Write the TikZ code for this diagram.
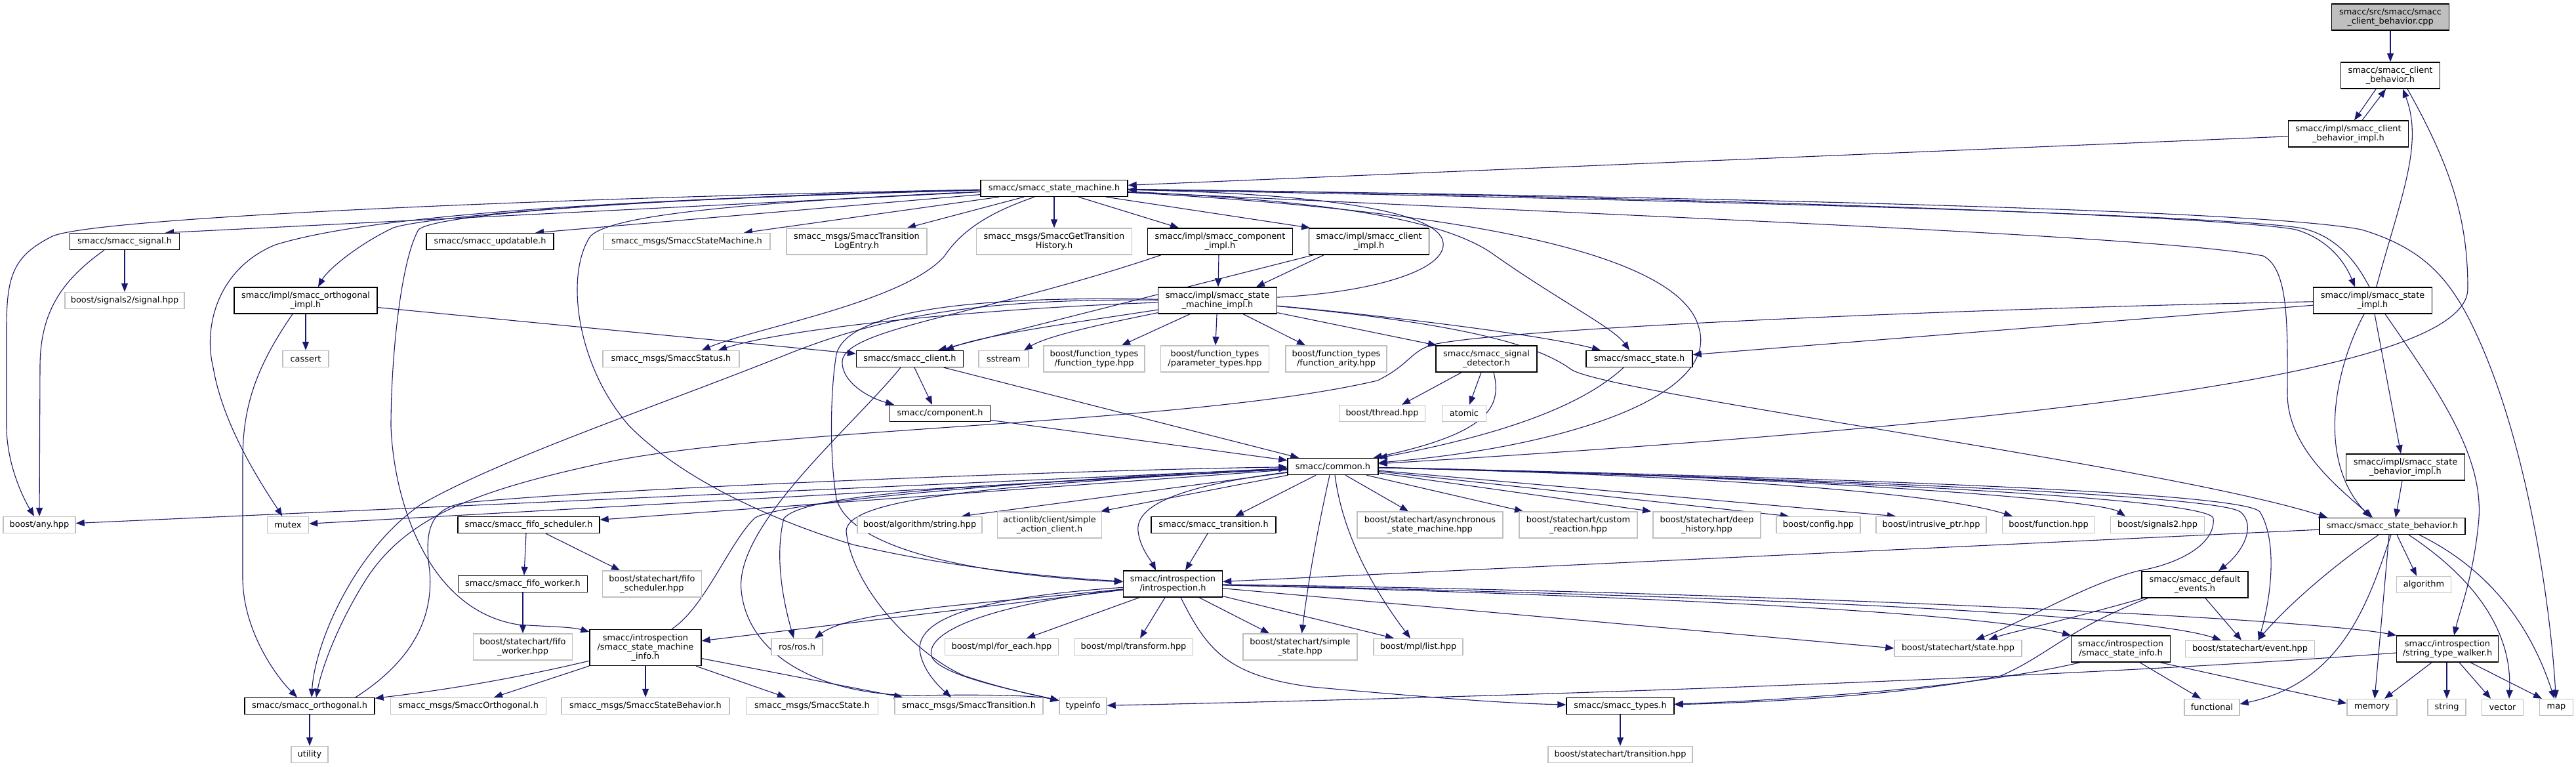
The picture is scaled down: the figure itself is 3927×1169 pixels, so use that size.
\documentclass[tikz,border=0pt]{standalone}
\usepackage{fontspec}
\setmainfont{DejaVu Sans}
\usetikzlibrary{arrows.meta}
\definecolor{edgec}{HTML}{191970}
\definecolor{grayb}{HTML}{BFBFBF}
\pgfdeclarelayer{bg}
\pgfdeclarelayer{paper}
\pgfsetlayers{paper,bg,main}
\newcommand{\mynode}[7]{\node[#1,minimum width=#5pt,minimum height=#6pt] (#2) at (#3,#4) {#7};}
\begin{document}
\begin{tikzpicture}[x=1pt,y=-1pt,
  basebox/.style={rectangle, inner sep=0pt, align=center, font=\fontsize{12.9}{14}\selectfont, fill=white},
  dnode/.style={basebox, draw=black, line width=1.4pt},
  gnode/.style={basebox, draw=grayb, line width=1.4pt},
  cnode/.style={dnode, fill=grayb},
  e/.style={draw=edgec, line width=1.1pt, -{Triangle[length=13pt,width=10pt]}}]
\useasboundingbox (0,0) rectangle (3927,1169);
\begin{pgfonlayer}{paper}
\fill[white] (0,0) rectangle (3927,1169);
\end{pgfonlayer}
% nodes
\mynode{cnode}{cpp}{3644}{26}{179}{40}{smacc/src/smacc/smacc\\\_client\_behavior.cpp}
\mynode{dnode}{cbh}{3644}{115}{151}{40}{smacc/smacc\_client\\\_behavior.h}
\mynode{dnode}{cbi}{3580}{204}{183}{40}{smacc/impl/smacc\_client\\\_behavior\_impl.h}
\mynode{dnode}{sm}{1607}{287}{224}{25}{smacc/smacc\_state\_machine.h}
\mynode{dnode}{sig}{190}{368}{167}{25}{smacc/smacc\_signal.h}
\mynode{dnode}{upd}{747}{368}{194}{25}{smacc/smacc\_updatable.h}
\mynode{gnode}{ssm}{1047}{368}{254}{25}{smacc\_msgs/SmaccStateMachine.h}
\mynode{gnode}{stl}{1306}{368}{214}{40}{smacc\_msgs/SmaccTransition\\LogEntry.h}
\mynode{gnode}{gth}{1607}{368}{237}{40}{smacc\_msgs/SmaccGetTransition\\History.h}
\mynode{dnode}{compimpl}{1860}{368}{221}{40}{smacc/impl/smacc\_component\\\_impl.h}
\mynode{dnode}{cliimpl}{2087}{368}{183}{40}{smacc/impl/smacc\_client\\\_impl.h}
\mynode{gnode}{sigh}{190}{458}{182}{25}{boost/signals2/signal.hpp}
\mynode{dnode}{orthimpl}{466}{458}{218}{40}{smacc/impl/smacc\_orthogonal\\\_impl.h}
\mynode{dnode}{smimpl}{1856}{458}{181}{40}{smacc/impl/smacc\_state\\\_machine\_impl.h}
\mynode{dnode}{stimpl}{3617}{458}{181}{40}{smacc/impl/smacc\_state\\\_impl.h}
\mynode{gnode}{cassert}{466}{547}{70}{25}{cassert}
\mynode{gnode}{status}{1023}{547}{208}{25}{smacc\_msgs/SmaccStatus.h}
\mynode{dnode}{client}{1387}{547}{163}{25}{smacc/smacc\_client.h}
\mynode{gnode}{sstream}{1530}{547}{76}{25}{sstream}
\mynode{gnode}{ftype}{1668}{547}{154}{40}{boost/function\_types\\/function\_type.hpp}
\mynode{gnode}{ptypes}{1852}{547}{165}{40}{boost/function\_types\\/parameter\_types.hpp}
\mynode{gnode}{farity}{2037}{547}{154}{40}{boost/function\_types\\/function\_arity.hpp}
\mynode{dnode}{sigdet}{2266}{547}{154}{40}{smacc/smacc\_signal\\\_detector.h}
\mynode{dnode}{state}{2499}{547}{162}{25}{smacc/smacc\_state.h}
\mynode{dnode}{comp}{1433}{630}{153}{25}{smacc/component.h}
\mynode{gnode}{thread}{2107}{630}{131}{25}{boost/thread.hpp}
\mynode{gnode}{atomic}{2232}{630}{67}{25}{atomic}
\mynode{dnode}{common}{2032}{711}{138}{25}{smacc/common.h}
\mynode{dnode}{sbimpl}{3667}{712}{181}{40}{smacc/impl/smacc\_state\\\_behavior\_impl.h}
\mynode{gnode}{any}{60}{800}{110}{25}{boost/any.hpp}
\mynode{gnode}{mutex}{439}{800}{63}{25}{mutex}
\mynode{dnode}{fifos}{806}{800}{216}{25}{smacc/smacc\_fifo\_scheduler.h}
\mynode{gnode}{algstr}{1402}{800}{190}{25}{boost/algorithm/string.hpp}
\mynode{gnode}{sac}{1600}{800}{159}{40}{actionlib/client/simple\\\_action\_client.h}
\mynode{dnode}{trans}{1850}{800}{190}{25}{smacc/smacc\_transition.h}
\mynode{gnode}{async}{2180}{800}{222}{40}{boost/statechart/asynchronous\\\_state\_machine.hpp}
\mynode{gnode}{custom}{2406}{800}{180}{40}{boost/statechart/custom\\\_reaction.hpp}
\mynode{gnode}{deep}{2602}{800}{164}{40}{boost/statechart/deep\\\_history.hpp}
\mynode{gnode}{config}{2772}{800}{128}{25}{boost/config.hpp}
\mynode{gnode}{intr}{2944}{800}{168}{25}{boost/intrusive\_ptr.hpp}
\mynode{gnode}{func}{3123}{800}{141}{25}{boost/function.hpp}
\mynode{gnode}{sigtwo}{3289}{800}{143}{25}{boost/signals2.hpp}
\mynode{dnode}{sbeh}{3647}{802}{222}{25}{smacc/smacc\_state\_behavior.h}
\mynode{dnode}{fifow}{797}{890}{197}{25}{smacc/smacc\_fifo\_worker.h}
\mynode{gnode}{fifoshpp}{994}{890}{151}{40}{boost/statechart/fifo\\\_scheduler.hpp}
\mynode{dnode}{intro}{1788}{890}{151}{40}{smacc/introspection\\/introspection.h}
\mynode{dnode}{defev}{3346}{891}{162}{40}{smacc/smacc\_default\\\_events.h}
\mynode{gnode}{algo}{3695}{891}{83}{25}{algorithm}
\mynode{gnode}{fifowhpp}{797}{986}{151}{40}{boost/statechart/fifo\\\_worker.hpp}
\mynode{dnode}{smi}{984}{987}{170}{55}{smacc/introspection\\/smacc\_state\_machine\\\_info.h}
\mynode{gnode}{ros}{1215}{986}{78}{25}{ros/ros.h}
\mynode{gnode}{foreach}{1527}{986}{173}{25}{boost/mpl/for\_each.hpp}
\mynode{gnode}{transform}{1728}{986}{181}{25}{boost/mpl/transform.hpp}
\mynode{gnode}{simple}{1982}{986}{174}{40}{boost/statechart/simple\\\_state.hpp}
\mynode{gnode}{list}{2162}{986}{136}{25}{boost/mpl/list.hpp}
\mynode{gnode}{statehpp}{2985}{988}{194}{25}{boost/statechart/state.hpp}
\mynode{dnode}{sinfo}{3233}{989}{151}{40}{smacc/introspection\\/smacc\_state\_info.h}
\mynode{gnode}{event}{3430}{989}{197}{25}{boost/statechart/event.hpp}
\mynode{dnode}{stw}{3731}{989}{155}{40}{smacc/introspection\\/string\_type\_walker.h}
\mynode{dnode}{orth}{472}{1076}{198}{25}{smacc/smacc\_orthogonal.h}
\mynode{gnode}{sorth}{714}{1076}{237}{25}{smacc\_msgs/SmaccOrthogonal.h}
\mynode{gnode}{ssb}{984}{1076}{256}{25}{smacc\_msgs/SmaccStateBehavior.h}
\mynode{gnode}{sstate}{1238}{1076}{201}{25}{smacc\_msgs/SmaccState.h}
\mynode{gnode}{strans}{1477}{1076}{226}{25}{smacc\_msgs/SmaccTransition.h}
\mynode{gnode}{typeinfo}{1651}{1076}{72}{25}{typeinfo}
\mynode{dnode}{types}{2470}{1076}{164}{25}{smacc/smacc\_types.h}
\mynode{gnode}{functional}{3372}{1078}{84}{25}{functional}
\mynode{gnode}{memory}{3616}{1078}{76}{25}{memory}
\mynode{gnode}{string}{3730}{1078}{58}{25}{string}
\mynode{gnode}{vector}{3815}{1078}{63}{25}{vector}
\mynode{gnode}{map}{3897}{1078}{51}{25}{map}
\mynode{gnode}{utility}{472}{1150}{56}{25}{utility}
\mynode{gnode}{transhpp}{2470}{1150}{220}{25}{boost/statechart/transition.hpp}

\begin{pgfonlayer}{bg}
% top cluster
\draw[e] (cpp) -- (cbh);
\draw[e] ([xshift=-22pt]cbh.south) -- ([xshift=9pt]cbi.north);
\draw[e] ([xshift=21pt]cbi.north) -- ([xshift=-7pt]cbh.south);
\draw[e] ([xshift=26pt]cbh.south) .. controls (3740,260) and (3762,340) .. (3762,440) .. controls (3762,560) and (3200,640) .. (common);
\draw[e] (stimpl) .. controls (3660,300) and (3695,220) .. ([xshift=19pt]cbh.south);
\draw[e] (cbi) -- (sm);
% state machine outgoing
\draw[e] (sm) .. controls (900,300) and (150,330) .. (80,360) .. controls (20,390) and (10,420) .. (10,500) -- (10,650) .. controls (10,700) and (30,750) .. (any);
\draw[e] (sm) -- ([xshift=62pt]sig.north);
\draw[e] (sm) .. controls (1000,300) and (650,330) .. (600,347) .. controls (550,370) and (500,410) .. ([xshift=19pt]orthimpl.north);
\draw[e] (sm) .. controls (900,305) and (560,330) .. (420,373) .. controls (330,410) and (310,500) .. (325,560) .. controls (340,650) and (400,740) .. (mutex);
\draw[e] (sm) .. controls (900,305) and (660,330) .. (638,350) .. controls (610,400) and (596,550) .. (596,650) .. controls (600,760) and (650,930) .. (790,952) .. controls (830,955) and (870,955) .. (smi);
\draw[e] (sm) .. controls (1100,310) and (930,330) .. (900,360) .. controls (860,420) and (880,560) .. (960,650) .. controls (1050,740) and (1200,800) .. (1300,830) .. controls (1450,865) and (1600,880) .. (intro);
\draw[e] (sm) -- ([xshift=69pt]upd.north);
\draw[e] ([xshift=-84pt]sm.south) -- ([xshift=87pt]ssm.north);
\draw[e] ([xshift=-46pt]sm.south) -- ([xshift=77pt]stl.north);
\draw[e] (sm) -- (gth);
\draw[e] ([xshift=37pt]sm.south) -- ([xshift=-63pt]compimpl.north);
\draw[e] ([xshift=79pt]sm.south) -- ([xshift=-90pt]cliimpl.north);
\draw[e] ([xshift=-30pt]sm.south) .. controls (1520,320) and (1470,345) .. (1440,390) .. controls (1380,460) and (1150,500) .. ([xshift=47pt]status.north);
\draw[e] (sm) .. controls (2000,305) and (2200,330) .. (2280,390) .. controls (2380,460) and (2460,500) .. ([xshift=-15pt]state.north);
\draw[e] (sm) .. controls (2200,320) and (2560,380) .. (2590,500) .. controls (2620,600) and (2400,680) .. (common);
\draw[e] (sm) .. controls (2600,300) and (3450,320) .. (3600,350) .. controls (3700,380) and (3740,430) .. (3780,520) .. controls (3860,700) and (3890,950) .. (map);
\draw[e] (sm) .. controls (2600,300) and (3400,330) .. (3500,350) .. controls (3550,365) and (3575,400) .. ([xshift=-27pt]stimpl.north);
\draw[e] ([xshift=-5pt]stimpl.north) .. controls (3590,395) and (3560,360) .. (3510,348) .. controls (3400,328) and (2600,305) .. (sm);
\draw[e] (sm) .. controls (2500,330) and (3300,360) .. (3450,390) .. controls (3490,410) and (3487,500) .. (3487,600) .. controls (3487,680) and (3560,740) .. ([xshift=-30pt]sbeh.north);
% state impl
\draw[e] ([xshift=3pt]stimpl.south) -- ([xshift=-7pt]sbimpl.north);
\draw[e] ([xshift=-13pt]stimpl.south) .. controls (3560,560) and (3530,700) .. ([xshift=-33pt]sbeh.north);
\draw[e] ([xshift=19pt]stimpl.south) .. controls (3720,600) and (3790,700) .. (3778,800) .. controls (3770,880) and (3750,930) .. ([xshift=10pt]stw.north);
\draw[e] (stimpl) -- (state);
\draw[e] (stimpl) .. controls (3000,470) and (2300,500) .. (2185,525) .. controls (2150,535) and (2150,555) .. (2100,580) .. controls (1800,650) and (1150,650) .. (900,710) .. controls (720,750) and (620,790) .. (560,880) .. controls (515,950) and (490,1020) .. ([xshift=10pt]orth.north);
\draw[e] ([xshift=-5pt]sbimpl.south) -- ([xshift=5pt]sbeh.north);
% state behavior
\draw[e] (sbeh) -- (intro);
\draw[e] ([xshift=-21pt]sbeh.south) .. controls (3560,860) and (3490,920) .. ([xshift=12pt]event.north);
\draw[e] ([xshift=-2pt]sbeh.south) .. controls (3610,920) and (3570,1040) .. ([yshift=5pt]functional.east);
\draw[e] ([xshift=-5pt]sbeh.south) -- ([xshift=4pt]memory.north);
\draw[e] ([xshift=7pt]sbeh.south) -- ([xshift=-11pt]algo.north);
\draw[e] ([xshift=25pt]sbeh.south) .. controls (3770,880) and (3830,960) .. ([xshift=10pt]vector.north);
\draw[e] ([xshift=41pt]sbeh.south) .. controls (3800,870) and (3860,960) .. ([xshift=-3pt]map.north);
% string type walker
\draw[e] ([xshift=-24pt]stw.south) -- ([xshift=19pt]memory.north);
\draw[e] ([xshift=-1pt]stw.south) -- (string.north);
\draw[e] ([xshift=18pt]stw.south) -- ([xshift=-18pt]vector.north);
\draw[e] ([xshift=35pt]stw.south) -- ([xshift=-22pt]map.north);
\draw[e] (stw) .. controls (3200,1030) and (2400,1060) .. (typeinfo);
% state info
\draw[e] ([xshift=29pt]sinfo.south) -- ([xshift=-17pt]functional.north);
\draw[e] ([xshift=60pt]sinfo.south) -- ([yshift=6pt]memory.west);
\draw[e] ([xshift=-62pt]sinfo.south) .. controls (3000,1050) and (2700,1068) .. (types);
% default events
\draw[e] ([xshift=-79pt]defev.south) .. controls (3150,945) and (3060,965) .. ([xshift=47pt]statehpp.north);
\draw[e] ([xshift=16pt]defev.south) -- ([xshift=-13pt]event.north);
\draw[e] ([xshift=-72pt]defev.south) .. controls (3150,960) and (3120,1000) .. (3050,1030) .. controls (2900,1060) and (2700,1070) .. (types);
% common outgoing
\draw[e] (common) -- (any);
\draw[e] (common) -- (mutex);
\draw[e] (common) -- (fifos);
\draw[e] (common) .. controls (1500,740) and (1230,750) .. (1195,790) .. controls (1180,850) and (1195,920) .. ([xshift=-5pt]ros.north);
\draw[e] (common) -- ([xshift=64pt]algstr.north);
\draw[e] (common) -- ([xshift=78pt]sac.north);
\draw[e] (common) -- ([xshift=33pt]trans.north);
\draw[e] (common) .. controls (1800,740) and (1730,770) .. (1735,810) .. controls (1738,835) and (1755,855) .. ([xshift=-26pt]intro.north);
\draw[e] ([xshift=19pt]common.south) -- ([xshift=-33pt]async.north);
\draw[e] ([xshift=51pt]common.south) -- ([xshift=-84pt]custom.north);
\draw[e] (common) -- ([xshift=-85pt]deep.north);
\draw[e] (common) -- ([xshift=-45pt]config.north);
\draw[e] (common) -- ([xshift=-54pt]intr.north);
\draw[e] (common) .. controls (2600,725) and (2950,750) .. ([xshift=-55pt]func.north);
\draw[e] (common) .. controls (2700,725) and (3200,760) .. ([xshift=-49pt]sigtwo.north);
\draw[e] (common) .. controls (2800,730) and (3380,755) .. (3415,780) .. controls (3440,800) and (3420,840) .. ([xshift=36pt]defev.north);
\draw[e] (common) .. controls (2800,728) and (3420,750) .. (3445,780) .. controls (3470,820) and (3465,900) .. ([xshift=13pt]event.north);
\draw[e] (common) .. controls (2800,730) and (3370,760) .. (3374,790) .. controls (3378,830) and (3320,860) .. (3260,870) .. controls (3180,890) and (3080,950) .. ([xshift=27pt]statehpp.north);
\draw[e] ([xshift=3pt]common.south) .. controls (2045,800) and (2080,880) .. ([xshift=-12pt]list.north);
\draw[e] ([xshift=-5pt]common.south) .. controls (2010,800) and (1995,880) .. (simple);
\draw[e] (common) .. controls (1500,740) and (1290,760) .. (1290,810) .. controls (1300,900) and (1400,1000) .. (1470,1030) .. controls (1530,1050) and (1580,1060) .. (typeinfo);
% into common
\draw[e] ([xshift=40pt]smi.north) .. controls (1075,925) and (1110,830) .. (1150,790) .. controls (1190,760) and (1700,725) .. (common);
\draw[e] ([xshift=70pt]orth.north) .. controls (640,1000) and (660,930) .. (655,870) .. controls (645,800) and (660,770) .. (720,765) .. controls (1000,740) and (1700,715) .. (common);
\draw[e] (client) -- (common);
\draw[e] (comp) -- (common);
\draw[e] ([xshift=-24pt]state.south) .. controls (2400,630) and (2250,670) .. (common);
\draw[e] ([xshift=11pt]sigdet.south) .. controls (2290,620) and (2270,660) .. (common);
\draw[e] ([xshift=-38pt]sigdet.south) -- ([xshift=30pt]thread.north);
\draw[e] ([xshift=-8pt]sigdet.south) -- ([xshift=8pt]atomic.north);
% state machine impl
\draw[e] (smimpl) -- ([xshift=-76pt]sigdet.north);
\draw[e] (smimpl) .. controls (2100,480) and (2350,510) .. ([xshift=-59pt]state.north);
\draw[e] ([xshift=-42pt]smimpl.south) -- ([xshift=42pt]ftype.north);
\draw[e] (smimpl) -- (ptypes);
\draw[e] ([xshift=39pt]smimpl.south) -- ([xshift=-47pt]farity.north);
\draw[e] (smimpl) .. controls (1700,490) and (1600,510) .. ([xshift=31pt]sstream.north);
\draw[e] (smimpl) .. controls (1650,490) and (1500,510) .. ([xshift=54pt]client.north);
\draw[e] (smimpl) .. controls (1500,470) and (1200,500) .. ([xshift=72pt]status.north);
\draw[e] (smimpl) .. controls (1500,455) and (1350,480) .. (1200,540) .. controls (1000,620) and (760,700) .. (640,770) .. controls (540,840) and (480,980) .. ([xshift=3pt]orth.north);
\draw[e] (smimpl) .. controls (1450,450) and (1290,480) .. (1275,540) .. controls (1265,600) and (1265,700) .. (1275,760) .. controls (1300,850) and (1550,880) .. (intro);
\draw[e] (smimpl) .. controls (2250,495) and (2350,530) .. (2395,563) .. controls (2450,600) and (3300,710) .. ([xshift=-99pt]sbeh.north);
\draw[e] (smimpl) .. controls (2100,445) and (2205,410) .. (2200,370) .. controls (2195,320) and (2000,295) .. (sm);
\draw[e] ([xshift=-69pt]cliimpl.south) -- ([xshift=59pt]smimpl.north);
\draw[e] ([xshift=-2pt]compimpl.south) -- ([xshift=1pt]smimpl.north);
\draw[e] ([xshift=-85pt]cliimpl.south) -- ([xshift=43pt]client.north);
\draw[e] ([xshift=-90pt]compimpl.south) .. controls (1500,480) and (1290,500) .. (1284,550) .. controls (1282,580) and (1320,605) .. ([xshift=-70pt]comp.north);
% orthogonal impl, signal
\draw[e] (orthimpl) -- (client);
\draw[e] (orthimpl) -- (cassert);
\draw[e] ([xshift=-20pt]orthimpl.south) .. controls (390,560) and (370,620) .. (370,700) -- (370,880) .. controls (370,960) and (420,1030) .. ([xshift=-19pt]orth.north);
\draw[e] (sig) -- (sigh);
\draw[e] ([xshift=-31pt]sig.south) .. controls (90,430) and (61,480) .. (61,560) -- (any);
% client
\draw[e] ([xshift=7pt]client.south) -- ([xshift=-12pt]comp.north);
\draw[e] ([xshift=-14pt]client.south) .. controls (1300,650) and (1120,800) .. (1130,900) .. controls (1140,1000) and (1250,1060) .. (1400,1060) .. controls (1500,1058) and (1580,1060) .. (typeinfo);
% fifo
\draw[e] ([xshift=-4pt]fifos.south) -- ([xshift=2pt]fifow.north);
\draw[e] ([xshift=26pt]fifos.south) -- ([xshift=-49pt]fifoshpp.north);
\draw[e] (fifow) -- (fifowhpp);
\draw[e] ([xshift=-9pt]trans.south) -- ([xshift=19pt]intro.north);
% introspection
\draw[e] (intro) .. controls (1500,920) and (1300,930) .. ([xshift=27pt]ros.north);
\draw[e] ([xshift=-51pt]intro.south) -- ([xshift=38pt]foreach.north);
\draw[e] ([xshift=-12pt]intro.south) -- ([xshift=10pt]transform.north);
\draw[e] ([xshift=40pt]intro.south) -- ([xshift=-47pt]simple.north);
\draw[e] (intro) -- (smi);
\draw[e] (intro) .. controls (1500,910) and (1400,940) .. (1402,990) .. controls (1405,1020) and (1430,1045) .. ([xshift=-27pt]strans.north);
\draw[e] (intro) .. controls (1520,920) and (1410,960) .. (1420,1000) .. controls (1430,1030) and (1560,1055) .. (typeinfo);
\draw[e] ([xshift=12pt]intro.south) .. controls (1840,990) and (1870,1030) .. (2000,1047) .. controls (2200,1065) and (2300,1072) .. (types);
\draw[e] (intro) -- ([xshift=-37pt]list.north);
\draw[e] (intro) -- (statehpp.west);
\draw[e] (intro) .. controls (2400,905) and (3000,930) .. ([xshift=-76pt]sinfo.north);
\draw[e] (intro) .. controls (2500,905) and (3250,930) .. ([xshift=-44pt]event.north);
\draw[e] (intro) .. controls (2600,900) and (3500,940) .. ([xshift=-78pt]stw.north);
% state machine info
\draw[e] (smi) .. controls (760,1040) and (650,1055) .. (orth);
\draw[e] (smi) -- ([xshift=39pt]sorth.north);
\draw[e] (smi) -- (ssb);
\draw[e] ([xshift=77pt]smi.south) -- ([xshift=-40pt]sstate.north);
\draw[e] (smi) -- ([xshift=-101pt]strans.north);
% bottom
\draw[e] (types) -- (transhpp);
\draw[e] (orth) -- (utility);
\end{pgfonlayer}
\end{tikzpicture}
\end{document}
